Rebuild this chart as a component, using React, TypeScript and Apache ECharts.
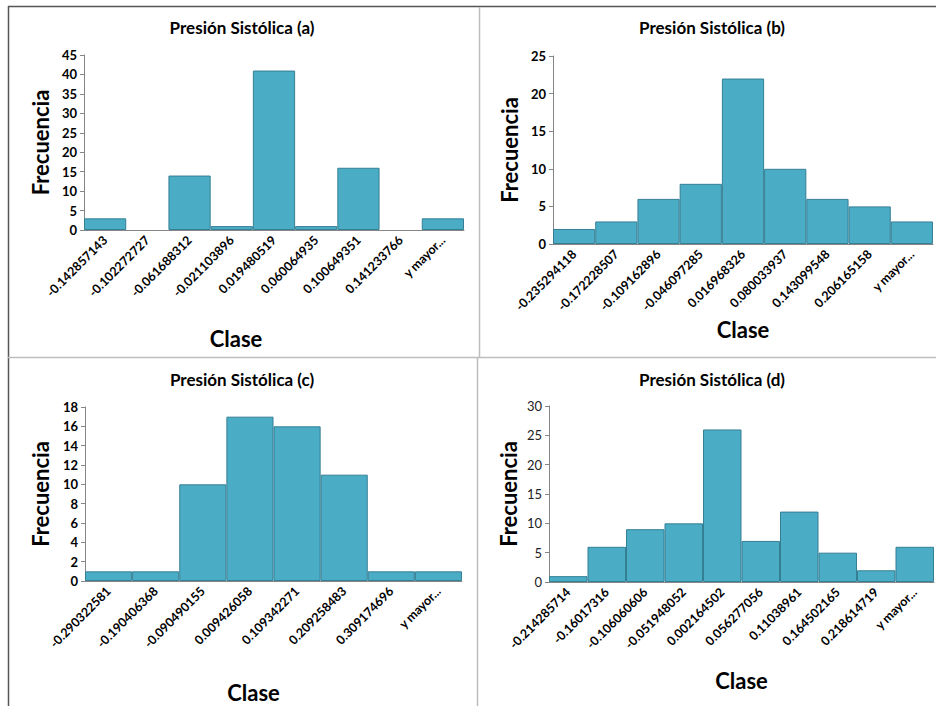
import React, { useEffect, useRef } from "react";
import * as echarts from "echarts";

const titles = ["Presión Sistólica (a)", "Presión Sistólica (b)", "Presión Sistólica (c)", "Presión Sistólica (d)"];

const catsA = ["-0.142857143", "-0.102272727", "-0.061688312", "-0.021103896", "0.019480519", "0.060064935", "0.100649351", "0.141233766", "y mayor..."];
const valsA = [3, 0, 14, 1, 41, 1, 16, 0, 3];

const catsB = ["-0.235294118", "-0.172228507", "-0.109162896", "-0.046097285", "0.016968326", "0.080033937", "0.143099548", "0.206165158", "y mayor..."];
const valsB = [2, 3, 6, 8, 22, 10, 6, 5, 3];

const catsC = ["-0.290322581", "-0.190406368", "-0.090490155", "0.009426058", "0.109342271", "0.209258483", "0.309174696", "y mayor..."];
const valsC = [1, 1, 10, 17, 16, 11, 1, 1];

const catsD = ["-0.214285714", "-0.16017316", "-0.106060606", "-0.051948052", "0.002164502", "0.056277056", "0.11038961", "0.164502165", "0.218614719", "y mayor..."];
const valsD = [1, 6, 9, 10, 26, 7, 12, 5, 2, 6];

const yMax = [45, 25, 18, 30];
const yStep = [5, 5, 2, 5];

const FONT = "Lato, 'Open Sans', sans-serif";

export default function App() {
  const ref = useRef<HTMLDivElement>(null);
  useEffect(() => {
    if (!ref.current) return;
    const chart = echarts.init(ref.current, null, { renderer: "svg" });
    const cats = [catsA, catsB, catsC, catsD];
    const vals = [valsA, valsB, valsC, valsD];
    const grids = [
      { left: 84, top: 55, width: 380, height: 175 },
      { left: 553, top: 56, width: 380, height: 188 },
      { left: 85, top: 407, width: 377, height: 174 },
      { left: 549, top: 406, width: 385, height: 176 },
    ];
    const titleCenters = [
      { x: 242, y: 19 },
      { x: 712, y: 19 },
      { x: 242, y: 371 },
      { x: 712, y: 371 },
    ];
    const claseGap = [97, 74, 100, 87];
    const clasePad = [[0, 76, 0, 0], [0, 0, 0, 0], [0, 40, 0, 0], [0, 0, 0, 0]];
    const frecGap = [33, 33, 34, 30];

    const option: any = {
      animation: false,
      backgroundColor: "#ffffff",
      textStyle: { fontFamily: FONT },
      title: titles.map((t, i) => ({
        text: t,
        left: titleCenters[i].x,
        top: titleCenters[i].y,
        padding: 0,
        textAlign: "center",
        textStyle: { fontFamily: FONT, fontSize: 17, fontWeight: "bold", color: "#000" },
      })),
      grid: grids.map((g) => ({ ...g, containLabel: false })),
      xAxis: cats.map((c, i) => ({
        type: "category",
        gridIndex: i,
        data: c,
        name: "Clase",
        nameLocation: "middle",
        nameGap: claseGap[i],
        nameTextStyle: { fontFamily: FONT, fontSize: 22, fontWeight: "bold", color: "#000", padding: clasePad[i] },
        axisLine: { show: true, lineStyle: { color: "#868686", width: 1 } },
        axisTick: { show: false },
        axisLabel: { rotate: 45, interval: 0, margin: 8, fontFamily: FONT, fontSize: 12.5, fontWeight: "bold", color: "#000" },
        splitLine: { show: false },
      })),
      yAxis: vals.map((_, i) => ({
        type: "value",
        gridIndex: i,
        min: 0,
        max: yMax[i],
        interval: yStep[i],
        name: "Frecuencia",
        nameLocation: "middle",
        nameRotate: 90,
        nameGap: frecGap[i],
        nameTextStyle: { fontFamily: FONT, fontSize: 22, fontWeight: "bold", color: "#000" },
        axisLine: { show: true, lineStyle: { color: "#868686", width: 1 } },
        axisTick: { show: true, length: 4, lineStyle: { color: "#868686" } },
        axisLabel: {
          margin: 7,
          fontFamily: FONT,
          fontSize: 13,
          fontWeight: i === 3 ? "normal" : "bold",
          color: i === 3 ? "#222" : "#000",
        },
        splitLine: { show: false },
      })),
      series: vals.map((v, i) => ({
        type: "bar",
        xAxisIndex: i,
        yAxisIndex: i,
        data: v.map((n) => (n === 0 ? { value: 0, itemStyle: { borderWidth: 0 } } : n)),
        barCategoryGap: "0%",
        itemStyle: { color: "#4BACC6", borderColor: "#357F94", borderWidth: 1 },
      })),
      graphic: [
        { type: "line", shape: { x1: 8, y1: 6.5, x2: 936, y2: 6.5 }, style: { stroke: "#555", lineWidth: 1.5 } },
        { type: "line", shape: { x1: 8.5, y1: 6, x2: 8.5, y2: 706 }, style: { stroke: "#555", lineWidth: 1.5 } },
        { type: "line", shape: { x1: 479.5, y1: 7, x2: 479.5, y2: 357 }, style: { stroke: "#bdbdbd", lineWidth: 1.5 } },
        { type: "line", shape: { x1: 8, y1: 357.5, x2: 936, y2: 357.5 }, style: { stroke: "#bdbdbd", lineWidth: 1.5 } },
        { type: "line", shape: { x1: 477.5, y1: 357, x2: 477.5, y2: 706 }, style: { stroke: "#bdbdbd", lineWidth: 1.5 } },
      ],
    };
    chart.setOption(option);
    return () => chart.dispose();
  }, []);
  return <div ref={ref} style={{ position: "fixed", left: 0, top: 0, width: 936, height: 706 }} />;
}
